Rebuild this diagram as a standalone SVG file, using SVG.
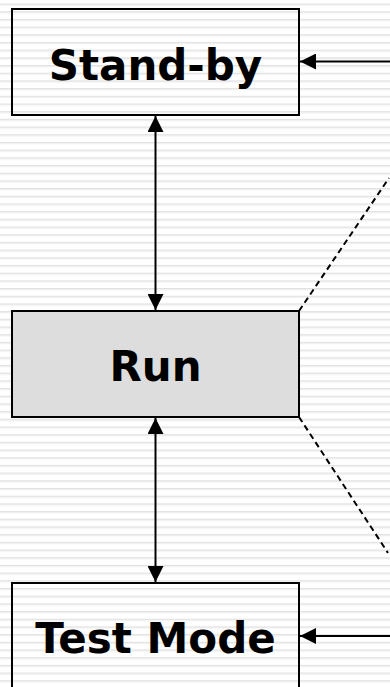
<svg xmlns="http://www.w3.org/2000/svg" width="390" height="687" viewBox="0 0 390 687">
<style>
.box{stroke:#000;stroke-width:2;fill:none}
.run{fill:#dddddd}
.lbl{font-family:"DejaVu Sans",Verdana,sans-serif;font-weight:bold;font-size:42px;fill:#000;text-anchor:middle}
.conn{stroke:#000;stroke-width:2;fill:none}
.dash{stroke:#000;stroke-width:2;fill:none;stroke-dasharray:6 4}
</style>
<defs>
<pattern id="stripes" x="0" y="3.5" width="390" height="7.69" patternUnits="userSpaceOnUse">
<rect x="0" y="0" width="390" height="1" fill="#e2e2e2"/>
<rect x="0" y="1" width="390" height="1.2" fill="#eeeeee"/>
</pattern>
<marker id="ah" viewBox="0 0 16 16" refX="16" refY="8" markerWidth="16" markerHeight="16" markerUnits="userSpaceOnUse" orient="auto-start-reverse">
<path d="M0,0 L16,8 L0,16 Z" fill="#000"/>
</marker>
</defs>
<rect x="0" y="0" width="390" height="687" fill="#fff"/>
<rect x="0" y="0" width="390" height="687" fill="url(#stripes)"/>
<g id="connectors">
<line class="conn" x1="155.5" y1="116" x2="155.5" y2="310" marker-start="url(#ah)" marker-end="url(#ah)"/>
<line class="conn" x1="155.5" y1="418" x2="155.5" y2="582" marker-start="url(#ah)" marker-end="url(#ah)"/>
<line class="conn" x1="392" y1="61.5" x2="300" y2="61.5" marker-end="url(#ah)"/>
<line class="conn" x1="392" y1="636" x2="300" y2="636" marker-end="url(#ah)"/>
<line class="dash" x1="299" y1="311" x2="389" y2="178"/>
<line class="dash" x1="299" y1="417" x2="388" y2="553"/>
</g>
<g id="standby">
<rect class="box" x="12" y="9" width="287" height="106"/>
<text class="lbl" x="155.5" y="80">Stand-by</text>
</g>
<g id="run">
<rect class="box run" x="12" y="311" width="287" height="106"/>
<text class="lbl" x="155.5" y="381">Run</text>
</g>
<g id="testmode">
<rect class="box" x="12" y="583" width="287" height="120"/>
<text class="lbl" x="155.5" y="653">Test Mode</text>
</g>
</svg>
